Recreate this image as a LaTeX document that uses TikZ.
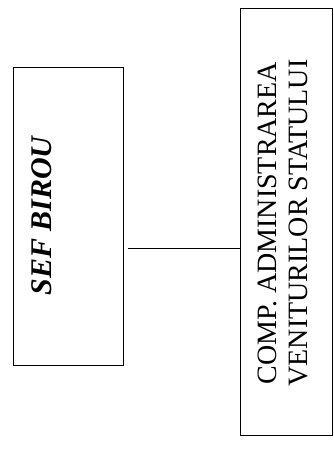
\documentclass[tikz,border=0pt]{standalone}
\usepackage{fontspec}
\setmainfont{Liberation Serif}
\begin{document}
\begin{tikzpicture}[x=1pt,y=-1pt,
  box/.style={draw=black, line width=0.9pt, inner sep=0pt},
  lbl/.style={inner sep=0pt, rotate=90},
  conn/.style={draw=black, line width=0.9pt}]
\useasboundingbox (0,0) rectangle (334,450);
\node[box, minimum width=110pt, minimum height=298pt] (lb) at (68,216) {};
\node[box, minimum width=92pt, minimum height=427pt] (rb) at (286,221.5) {};
\node[lbl, font=\fontsize{30}{32}\selectfont\bfseries\itshape] (lt) at (42,216) {SEF BIROU};
\node[lbl, align=center, font=\fontsize{28}{30.5}\selectfont] (rt) at (283,223) {COMP. ADMINISTRAREA\\VENITURILOR STATULUI};
\coordinate (cy) at (0,248);
\draw[conn, shorten <=4.5pt] (lb.east |- cy) -- (rb.west |- cy);
\end{tikzpicture}
\end{document}
